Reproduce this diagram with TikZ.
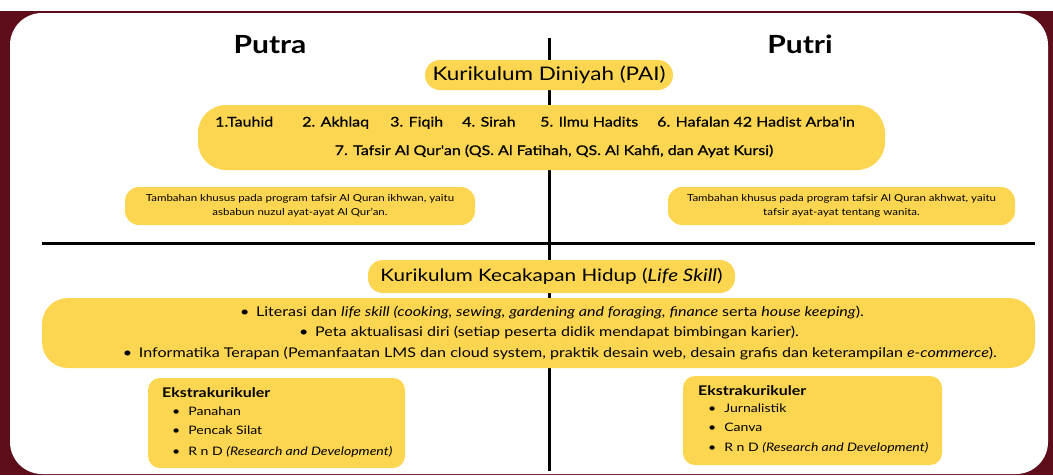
\documentclass[tikz,border=0pt]{standalone}
\usepackage{fontspec}
\setmainfont{Lato}[FakeStretch=1.2]
\newfontfamily\agaktebal{Lato}[FakeStretch=1.2, FakeBold=0.8]
\usetikzlibrary{positioning}
\definecolor{kuning}{HTML}{FDD651}
\definecolor{marun}{HTML}{5E0D1B}
\tikzset{
  pita/.style={fill=kuning, rounded corners=15pt, align=center, inner sep=0pt},
  kotak/.style={fill=kuning, rounded corners=12pt, inner sep=0pt},
  judul/.style={font=\bfseries\fontsize{25}{30}\selectfont},
  garis/.style={line width=3pt, black},
}
\begin{document}
\begin{tikzpicture}[x=1pt,y=-1pt]
\useasboundingbox (0,0) rectangle (1053,475);
% latar
\fill[white] (0,0) rectangle (1053,11);
\fill[marun] (0,11) rectangle (1053,475);
\fill[white, rounded corners=32pt] (10,13) rectangle (1048,474);
% garis pemisah
\coordinate (atas) at (549,38); \coordinate (bawah) at (549,471);
\coordinate (kiri) at (42,243); \coordinate (kanan) at (1035,243);
\draw[garis] (atas) -- (bawah);
\draw[garis] (kiri) -- (kanan);
% judul
\node[judul] (putra) at (270,45) {Putra};
\node[judul] (putri) at (800,44) {Putri};
% kurikulum diniyah
\node[pita, minimum width=248pt, minimum height=30pt,
  font=\fontsize{18.7}{21}\selectfont] (diniyah) at (549,75) {Kurikulum Diniyah (PAI)};
\node[pita, rounded corners=28pt, minimum width=687pt, minimum height=65pt]
  (materi) at (541.5,137.5) {};
\foreach \x/\isi [count=\i] in {215/1.Tauhid, 302/2. Akhlaq, 390/3. Fiqih,
  462/4. Sirah, 540/5. Ilmu Hadits, 657/6. Hafalan 42 Hadist Arba'in}
  \node[anchor=base west, inner sep=0pt, font=\agaktebal\fontsize{13.3}{16}\selectfont] (m\i) at (\x,126.5) {\isi};
\node[anchor=base, inner sep=0pt, font=\agaktebal\fontsize{13.3}{16}\selectfont] (m7) at (554,155)
  {7. Tafsir Al Qur'an (QS. Al Fatihah, QS. Al Kahfi, dan Ayat Kursi)};
\node[pita, rounded corners=14pt, minimum width=350pt, minimum height=38pt,
  font=\fontsize{9.6}{14.5}\selectfont] (ikhwan) at (300,206)
  {Tambahan khusus pada program tafsir Al Quran ikhwan, yaitu\\asbabun nuzul ayat-ayat Al Qur'an.};
\node[pita, rounded corners=14pt, minimum width=347pt, minimum height=38pt,
  font=\fontsize{9.6}{14.5}\selectfont] (akhwat) at (841.5,206)
  {Tambahan khusus pada program tafsir Al Quran akhwat, yaitu\\tafsir ayat-ayat tentang wanita.};
% kurikulum kecakapan hidup
\node[pita, minimum width=367pt, minimum height=33pt,
  font=\fontsize{17.2}{21}\selectfont] (hidup) at (551.5,276.5)
  {Kurikulum Kecakapan Hidup (\textit{Life Skill})};
\node[pita, rounded corners=26pt, minimum width=993pt, minimum height=70pt]
  (skill) at (538.5,333) {};
\node[font=\fontsize{13.4}{15}\selectfont] (s1) at (552,313)
  {\textbullet\enspace Literasi dan \textit{life skill (cooking, sewing, gardening and foraging, finance} serta \textit{house keeping}).};
\node[font=\fontsize{13.4}{15}\selectfont] (s2) at (549,333)
  {\textbullet\enspace Peta aktualisasi diri (setiap peserta didik mendapat bimbingan karier).};
\node[font=\fontsize{13.4}{15}\selectfont] (s3) at (560,354)
  {\textbullet\enspace Informatika Terapan (Pemanfaatan LMS dan cloud system, praktik desain web, desain grafis dan keterampilan \textit{e-commerce}).};
% ekstrakurikuler
\node[kotak, minimum width=257pt, minimum height=90pt] (ekskiri) at (276.5,423) {};
\node[anchor=west, inner sep=0pt, font=\bfseries\fontsize{13.3}{15}\selectfont] (hkiri) at (162,393) {Ekstrakurikuler};
\foreach \y/\isi [count=\i] in {411/Panahan, 430/Pencak Silat, 451/R n D \textit{(Research and Development)}}
  \node[anchor=base west, inner sep=0pt, font=\fontsize{11.7}{14}\selectfont] (ki\i) at (172,\y+4) {\textbullet\hspace{8pt}\isi};
\node[kotak, minimum width=259pt, minimum height=89pt] (ekskanan) at (812.5,420.5) {};
\node[anchor=west, inner sep=0pt, font=\bfseries\fontsize{13.3}{15}\selectfont] (hkanan) at (698,391) {Ekstrakurikuler};
\foreach \y/\isi [count=\i] in {408/Jurnalistik, 427/Canva, 447/R n D \textit{(Research and Development)}}
  \node[anchor=base west, inner sep=0pt, font=\fontsize{11.7}{14}\selectfont] (ka\i) at (708,\y+4) {\textbullet\hspace{8pt}\isi};
\end{tikzpicture}
\end{document}
